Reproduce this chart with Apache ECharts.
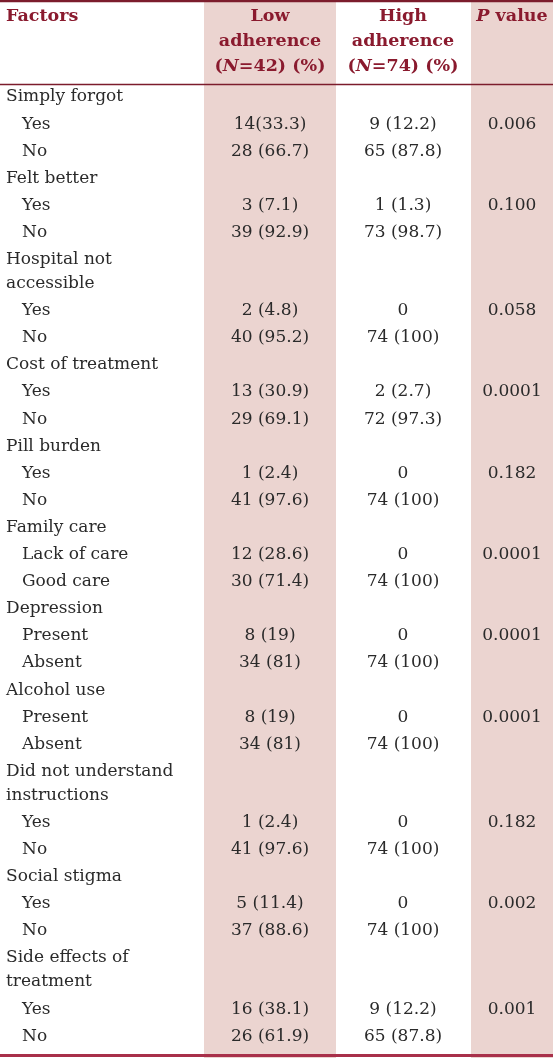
<!DOCTYPE html>
<html><head><meta charset="utf-8">
<script src="https://cdn.jsdelivr.net/npm/echarts@6/dist/echarts.min.js"></script>
<style>html,body{margin:0;padding:0;background:#fff}#c{width:553px;height:1058px}</style>
</head><body><div id="c"></div>
<script>
// ---- data ----
const factors = ["Simply forgot","Felt better","Hospital not\naccessible","Cost of treatment","Pill burden","Family care","Depression","Alcohol use","Did not understand\ninstructions","Social stigma","Side effects of\ntreatment"];
const levels = [["Yes","No"],["Yes","No"],["Yes","No"],["Yes","No"],["Yes","No"],["Lack of care","Good care"],["Present","Absent"],["Present","Absent"],["Yes","No"],["Yes","No"],["Yes","No"]];
const lowAdherence = [["14(33.3)","28 (66.7)"],["3 (7.1)","39 (92.9)"],["2 (4.8)","40 (95.2)"],["13 (30.9)","29 (69.1)"],["1 (2.4)","41 (97.6)"],["12 (28.6)","30 (71.4)"],["8 (19)","34 (81)"],["8 (19)","34 (81)"],["1 (2.4)","41 (97.6)"],["5 (11.4)","37 (88.6)"],["16 (38.1)","26 (61.9)"]];
const highAdherence = [["9 (12.2)","65 (87.8)"],["1 (1.3)","73 (98.7)"],["0","74 (100)"],["2 (2.7)","72 (97.3)"],["0","74 (100)"],["0","74 (100)"],["0","74 (100)"],["0","74 (100)"],["0","74 (100)"],["0","74 (100)"],["9 (12.2)","65 (87.8)"]];
const pValues = ["0.006","0.100","0.058","0.0001","0.182","0.0001","0.0001","0.0001","0.182","0.002","0.001"];
const headerLabels = ["Factors","Low\nadherence\n(N=42) (%)","High\nadherence\n(N=74) (%)","P value"];

// ---- layout ----
const W = 553, H = 1058;
const FONT = "DejaVu Serif";
const BODY = "#2a2a2a", HEAD = "#8a1a2e", SHADE = "#ebd4d0";
const colX = {factor: 6, level: 22, low: 270, high: 403, p: 512};
const headerX = [6, 270, 403, 512];
const headerAlign = ["left","center","center","center"];
const shadeBands = [[204, 336], [471, 553]];
const rules = [[1, 2.5, "#7c1c2c"], [84.5, 1.5, "#7c1c2c"], [1055.5, 3, "#a8304a"]];
const ROW = 27.1, WRAP = 24, START = 97;

const cells = [];
let y = START;
factors.forEach((f, i) => {
  f.split("\n").forEach((ln, j) => {
    if (j > 0) y += WRAP;
    cells.push({value: [colX.factor, y], text: ln, align: "left"});
  });
  y += ROW;
  levels[i].forEach((lv, k) => {
    cells.push({value: [colX.level, y], text: lv, align: "left"});
    cells.push({value: [colX.low, y], text: lowAdherence[i][k], align: "center"});
    cells.push({value: [colX.high, y], text: highAdherence[i][k], align: "center"});
    if (k === 0) cells.push({value: [colX.p, y], text: pValues[i], align: "center"});
    y += ROW;
  });
});

function headerRich(s) {
  return s.split("\n").map(line => {
    const m = line.match(/^(\(?)([NP])(.*)$/);
    if (m) return (m[1] ? "{b|" + m[1] + "}" : "") + "{bi|" + m[2] + "}{b|" + m[3] + "}";
    return "{b|" + line + "}";
  }).join("\n");
}
const headerCells = headerLabels.map((h, i) => ({value: [headerX[i], 4], text: headerRich(h), align: headerAlign[i]}));

const chart = echarts.init(document.getElementById("c"), null, {renderer: "canvas"});
chart.setOption({
  animation: false,
  grid: {left: 0, right: 0, top: 0, bottom: 0},
  xAxis: {type: "value", min: 0, max: W, show: false},
  yAxis: {type: "value", min: 0, max: H, inverse: true, show: false},
  series: [
    {
      type: "custom", silent: true, z: 1,
      data: shadeBands,
      renderItem: (params, api) => {
        const a = api.coord([api.value(0), 0]), b = api.coord([api.value(1), H]);
        return {type: "rect", shape: {x: a[0], y: a[1], width: b[0] - a[0], height: b[1] - a[1]}, style: {fill: SHADE}};
      }
    },
    {
      type: "custom", silent: true, z: 2,
      data: rules,
      renderItem: (params, api) => {
        const r = rules[params.dataIndex];
        const a = api.coord([0, r[0]]), b = api.coord([W, r[0]]);
        return {type: "line", shape: {x1: a[0], y1: a[1], x2: b[0], y2: b[1]}, style: {stroke: r[2], lineWidth: r[1]}};
      }
    },
    {
      type: "custom", silent: true, z: 3,
      data: cells,
      renderItem: (params, api) => {
        const c = cells[params.dataIndex];
        const p = api.coord([api.value(0), api.value(1)]);
        return {type: "text", x: p[0], y: p[1], style: {text: c.text, fill: BODY, font: "17px '" + FONT + "'", align: c.align, verticalAlign: "middle"}};
      }
    },
    {
      type: "custom", silent: true, z: 3,
      data: headerCells,
      renderItem: (params, api) => {
        const c = headerCells[params.dataIndex];
        const p = api.coord([api.value(0), api.value(1)]);
        const base = {fill: HEAD, fontFamily: FONT, fontSize: 17.5, fontWeight: "bold", lineHeight: 25};
        return {type: "text", x: p[0], y: p[1], style: {text: c.text, align: c.align, verticalAlign: "top",
          rich: {b: base, bi: Object.assign({}, base, {fontStyle: "italic"})}}};
      }
    }
  ]
});
</script>
</body></html>
